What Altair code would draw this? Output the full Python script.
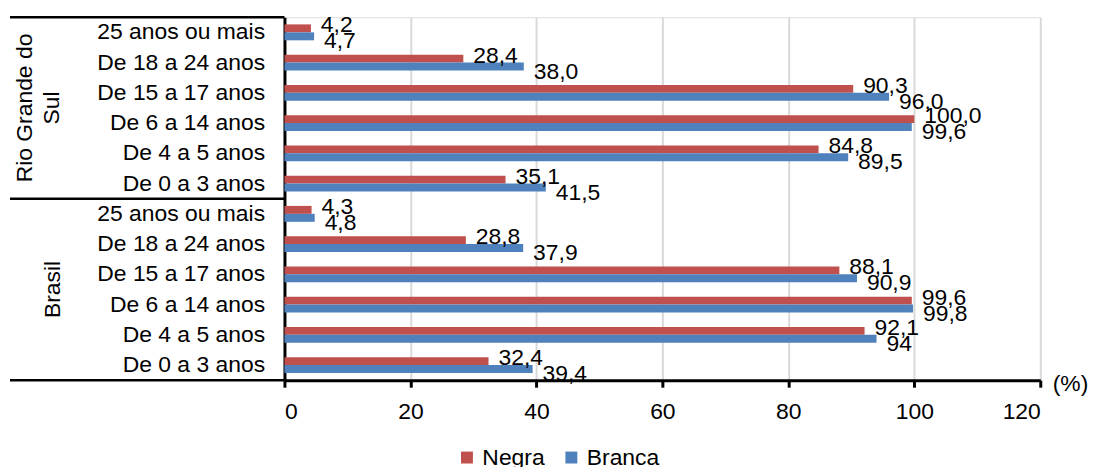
import altair as alt
import pandas as pd

ages = ["25 anos ou mais", "De 18 a 24 anos", "De 15 a 17 anos",
        "De 6 a 14 anos", "De 4 a 5 anos", "De 0 a 3 anos"]
groups = ["Rio Grande do Sul", "Brasil"]
series = ["Negra", "Branca"]
colors = ["#C0504D", "#4F81BD"]

negra_rs = [4.2, 28.4, 90.3, 100.0, 84.8, 35.1]
branca_rs = [4.7, 38.0, 96.0, 99.6, 89.5, 41.5]
negra_br = [4.3, 28.8, 88.1, 99.6, 92.1, 32.4]
branca_br = [4.8, 37.9, 90.9, 99.8, 94, 39.4]

lab_negra_rs = ["4,2", "28,4", "90,3", "100,0", "84,8", "35,1"]
lab_branca_rs = ["4,7", "38,0", "96,0", "99,6", "89,5", "41,5"]
lab_negra_br = ["4,3", "28,8", "88,1", "99,6", "92,1", "32,4"]
lab_branca_br = ["4,8", "37,9", "90,9", "99,8", "94", "39,4"]

x_ticks = [0, 20, 40, 60, 80, 100, 120]

rows = []
for g, neg, bra, ln, lb in [
    (groups[0], negra_rs, branca_rs, lab_negra_rs, lab_branca_rs),
    (groups[1], negra_br, branca_br, lab_negra_br, lab_branca_br),
]:
    for a, vn, vb, tn, tb in zip(ages, neg, bra, ln, lb):
        key = f"{g}|{a}"
        rows.append({"key": key, "serie": series[0], "valor": vn, "rotulo": tn})
        rows.append({"key": key, "serie": series[1], "valor": vb, "rotulo": tb})
df = pd.DataFrame(rows)
keys = [f"{g}|{a}" for g in groups for a in ages]

FONT = "Liberation Sans"
FS = 23

y_enc = alt.Y("key:N", sort=keys,
              scale=alt.Scale(paddingInner=0, paddingOuter=0),
              axis=alt.Axis(title=None, labelExpr="split(datum.label, '|')[1]",
                            ticks=False, tickSize=0, labelPadding=20,
                            labelFontSize=FS, labelColor="black", labelFont=FONT,
                            domainColor="black", domainWidth=3, grid=False,
                            labelLimit=400))
yoff = alt.YOffset("serie:N", sort=series,
                   scale=alt.Scale(paddingInner=0, paddingOuter=0.9))
x_enc = alt.X("valor:Q", scale=alt.Scale(domain=[0, 120], nice=False),
              axis=alt.Axis(values=x_ticks, grid=True, gridColor="#d9d9d9",
                            gridWidth=2, domainColor="black", domainWidth=3,
                            tickColor="black", tickWidth=3, tickSize=7,
                            labelFontSize=FS, labelFont=FONT, labelColor="black",
                            labelPadding=13, title="(%)", titleX=772, titleY=3,
                            titleAlign="left", titleBaseline="middle",
                            titleFontSize=FS, titleFont=FONT,
                            titleFontWeight="normal", titleColor="black"))

base = alt.Chart(df)

bars = base.mark_bar().encode(
    x=x_enc, y=y_enc, yOffset=yoff,
    color=alt.Color("serie:N", sort=series,
                    scale=alt.Scale(domain=series, range=colors),
                    legend=alt.Legend(title=None, orient="none", legendX=172,
                                      legendY=431, direction="horizontal",
                                      symbolType="square", symbolSize=144,
                                      symbolStrokeWidth=0, labelFontSize=FS,
                                      labelFont=FONT, labelColor="black",
                                      labelOffset=4, columnPadding=15)),
)

txt_n = base.transform_filter(alt.datum.serie == series[0]).mark_text(
    align="left", baseline="middle", dx=10, dy=-3, fontSize=FS, font=FONT,
    color="black").encode(x="valor:Q", y=alt.Y("key:N", sort=keys),
                          yOffset=alt.YOffset("serie:N", sort=series),
                          text="rotulo:N")
txt_b = base.transform_filter(alt.datum.serie == series[1]).mark_text(
    align="left", baseline="middle", dx=10, dy=5, fontSize=FS, font=FONT,
    color="black").encode(x="valor:Q", y=alt.Y("key:N", sort=keys),
                          yOffset=alt.YOffset("serie:N", sort=series),
                          text="rotulo:N")

# category frame lines at group boundaries
frame_top = pd.DataFrame({"key": [keys[0], keys[6]]})
frame_bot = pd.DataFrame({"key": [keys[-1]]})
rule_top = alt.Chart(frame_top).mark_rule(color="black", strokeWidth=2.5).encode(
    y=alt.Y("key:N", sort=keys, bandPosition=0),
    x=alt.value(-276), x2=alt.value(0))
rule_bot = alt.Chart(frame_bot).mark_rule(color="black", strokeWidth=2.5).encode(
    y=alt.Y("key:N", sort=keys, bandPosition=1),
    x=alt.value(-276), x2=alt.value(0))

grp_rs = alt.Chart(pd.DataFrame({"key": [keys[3]], "nome": ["Rio Grande do\nSul"]})
                   ).mark_text(angle=270, align="center", baseline="middle",
                               lineBreak="\n", lineHeight=27, fontSize=FS,
                               font=FONT, color="black").encode(
    y=alt.Y("key:N", sort=keys, bandPosition=0), x=alt.value(-261), text="nome:N")
grp_br = alt.Chart(pd.DataFrame({"key": [keys[9]], "nome": [groups[1]]})
                   ).mark_text(angle=270, align="center", baseline="middle",
                               fontSize=FS, font=FONT, color="black").encode(
    y=alt.Y("key:N", sort=keys, bandPosition=0), x=alt.value(-233), text="nome:N")

chart = alt.layer(bars, txt_n, txt_b, rule_top, rule_bot, grp_rs, grp_br).properties(
    width=760, height=365,
    autosize=alt.AutoSizeParams(type="none"),
    padding={"left": 278, "top": 8, "right": 50, "bottom": 90},
).configure_view(strokeWidth=0).configure(font=FONT)

chart.save("out.html", embed_options={"renderer": "svg", "actions": False})
